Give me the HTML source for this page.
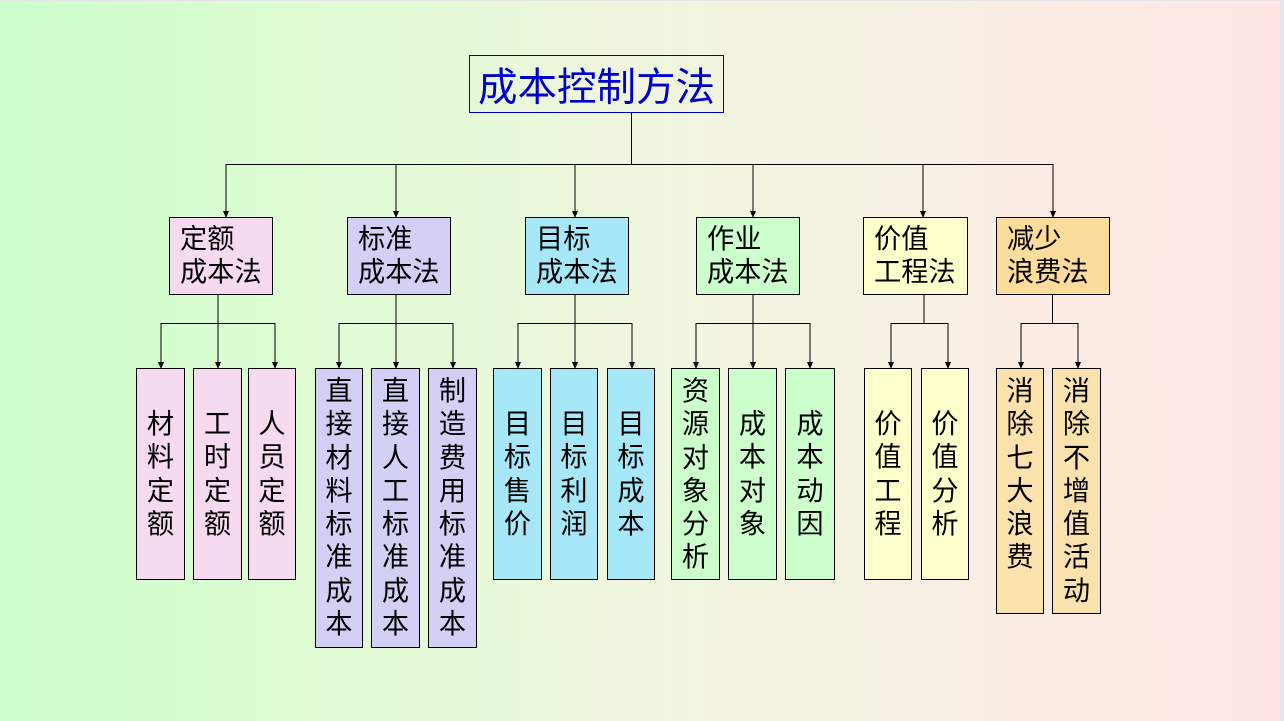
<!DOCTYPE html>
<html lang="zh"><head><meta charset="utf-8"><title>成本控制方法</title>
<style>
html,body{margin:0;padding:0;width:1284px;height:721px;overflow:hidden;background:#e6e6e8}
#bg{position:absolute;left:0;top:1px;width:1280px;height:720px;background:linear-gradient(90deg,#ccffcc 0%,#e0fbd5 26%,#f0f6de 50%,#f8f0e4 73%,#ffe5e5 100%)}
.b{position:absolute;box-sizing:border-box;border:1px solid #000;color:#000;font-family:"WenQuanYi Zen Hei","Noto Sans CJK SC",sans-serif;font-size:27.2px}
.h{line-height:33.3px;padding:2px 0 0 10px;white-space:nowrap}
.v{line-height:33.3px;text-align:center}
.v span{position:absolute;left:0;right:0;top:var(--t)}
.p{background:#f5daf0}.l{background:#d2d0f5}.c{background:#a6e8f8}.g{background:#ccffcc}.y{background:#ffffcc}.o{background:#fcdc9a}.o2{background:#fbe2ac}
svg{position:absolute;left:0;top:0}
</style></head><body>
<div id="bg"></div>
<svg width="1284" height="721">
<defs><marker id="a" markerWidth="7" markerHeight="6" refX="6" refY="3" orient="auto" markerUnits="userSpaceOnUse"><path d="M0 0L7 3L0 6Z" fill="#000"/></marker></defs>
<g stroke="#000" stroke-width="1" fill="none" shape-rendering="crispEdges">
<path d="M631.5 112V164.5M226 164.5H1053"/>
<path d="M161 323.5H275M339 323.5H453M518 323.5H632M696 323.5H810M891 323.5H948M1021 323.5H1078"/>
<path d="M924 294V323M1052.5 294V323"/>
</g>
<g stroke="#000" stroke-width="1" fill="none">
<path d="M226 164V217" marker-end="url(#a)"/><path d="M396 164V217" marker-end="url(#a)"/><path d="M575 164V217" marker-end="url(#a)"/><path d="M753 164V217" marker-end="url(#a)"/><path d="M923 164V217" marker-end="url(#a)"/><path d="M1053 164V217" marker-end="url(#a)"/>
<path d="M161 323V368" marker-end="url(#a)"/><path d="M218 294V368" marker-end="url(#a)"/><path d="M275 323V368" marker-end="url(#a)"/>
<path d="M339 323V368" marker-end="url(#a)"/><path d="M396 294V368" marker-end="url(#a)"/><path d="M453 323V368" marker-end="url(#a)"/>
<path d="M518 323V368" marker-end="url(#a)"/><path d="M575 294V368" marker-end="url(#a)"/><path d="M632 323V368" marker-end="url(#a)"/>
<path d="M696 323V368" marker-end="url(#a)"/><path d="M753 294V368" marker-end="url(#a)"/><path d="M810 323V368" marker-end="url(#a)"/>
<path d="M891 323V368" marker-end="url(#a)"/><path d="M948 323V368" marker-end="url(#a)"/>
<path d="M1021 323V368" marker-end="url(#a)"/><path d="M1078 323V368" marker-end="url(#a)"/>
</g>
</svg>
<div class="b" style="left:469px;top:55px;width:255px;height:58px;border-color:#0000cc;color:#0000cc;font-size:39.5px;line-height:57px;padding-left:8px;white-space:nowrap">成本控制方法</div>

<div class="b h p" style="left:169px;top:217px;width:104px;height:78px">定额<br>成本法</div>
<div class="b h l" style="left:347px;top:217px;width:104px;height:78px">标准<br>成本法</div>
<div class="b h c" style="left:525px;top:217px;width:104px;height:78px">目标<br>成本法</div>
<div class="b h g" style="left:696px;top:217px;width:104px;height:78px">作业<br>成本法</div>
<div class="b h y" style="left:863px;top:217px;width:105px;height:78px">价值<br>工程法</div>
<div class="b h o" style="left:996px;top:217px;width:114px;height:78px">减少<br>浪费法</div>

<div class="b v p" style="--t:36px;left:136px;top:368px;width:49px;height:212px"><span>材<br>料<br>定<br>额</span></div>
<div class="b v p" style="--t:36px;left:193px;top:368px;width:49px;height:212px"><span>工<br>时<br>定<br>额</span></div>
<div class="b v p" style="--t:36px;left:248px;top:368px;width:48px;height:212px"><span>人<br>员<br>定<br>额</span></div>

<div class="b v l" style="--t:3px;left:315px;top:368px;width:48px;height:280px"><span>直<br>接<br>材<br>料<br>标<br>准<br>成<br>本</span></div>
<div class="b v l" style="--t:3px;left:371px;top:368px;width:49px;height:280px"><span>直<br>接<br>人<br>工<br>标<br>准<br>成<br>本</span></div>
<div class="b v l" style="--t:3px;left:428px;top:368px;width:49px;height:280px"><span>制<br>造<br>费<br>用<br>标<br>准<br>成<br>本</span></div>

<div class="b v c" style="--t:36px;left:493px;top:368px;width:49px;height:212px"><span>目<br>标<br>售<br>价</span></div>
<div class="b v c" style="--t:36px;left:550px;top:368px;width:48px;height:212px"><span>目<br>标<br>利<br>润</span></div>
<div class="b v c" style="--t:36px;left:607px;top:368px;width:48px;height:212px"><span>目<br>标<br>成<br>本</span></div>

<div class="b v g" style="--t:3px;left:671px;top:368px;width:49px;height:212px"><span>资<br>源<br>对<br>象<br>分<br>析</span></div>
<div class="b v g" style="--t:36px;left:728px;top:368px;width:49px;height:212px"><span>成<br>本<br>对<br>象</span></div>
<div class="b v g" style="--t:36px;left:785px;top:368px;width:50px;height:212px"><span>成<br>本<br>动<br>因</span></div>

<div class="b v y" style="--t:36px;left:864px;top:368px;width:48px;height:212px"><span>价<br>值<br>工<br>程</span></div>
<div class="b v y" style="--t:36px;left:921px;top:368px;width:48px;height:212px"><span>价<br>值<br>分<br>析</span></div>

<div class="b v o2" style="--t:3px;left:996px;top:368px;width:48px;height:246px"><span>消<br>除<br>七<br>大<br>浪<br>费</span></div>
<div class="b v o2" style="--t:3px;left:1052px;top:368px;width:49px;height:246px"><span>消<br>除<br>不<br>增<br>值<br>活<br>动</span></div>
</body></html>
